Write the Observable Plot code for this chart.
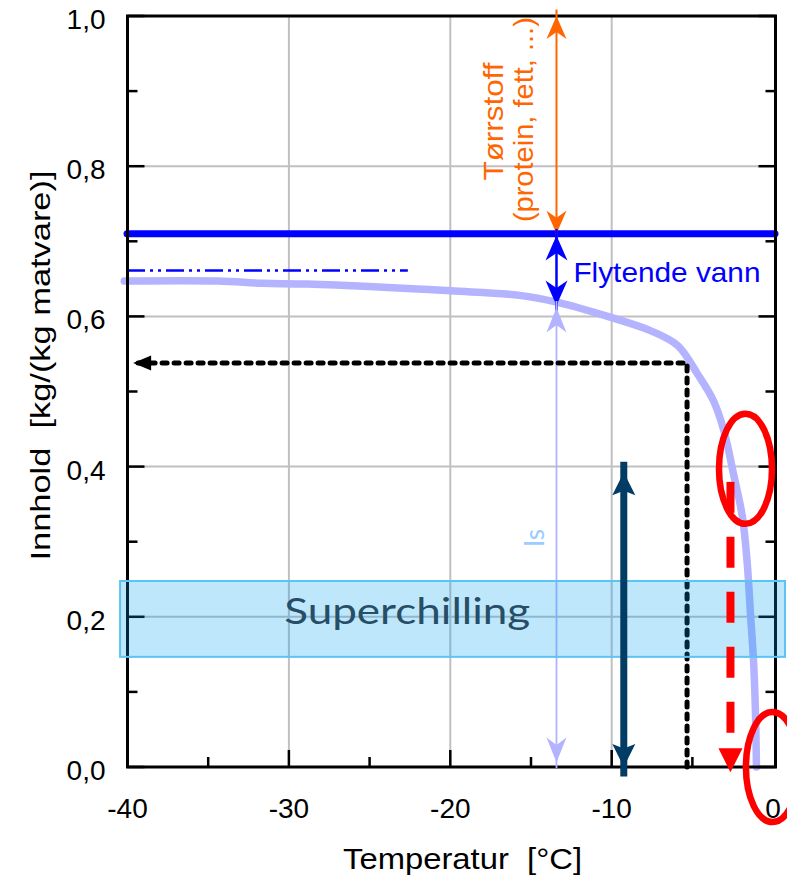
<!DOCTYPE html>
<html><head><meta charset="utf-8">
<script src="https://cdn.jsdelivr.net/npm/d3@7"></script>
<script src="https://cdn.jsdelivr.net/npm/@observablehq/plot@0.6"></script>
<style>html,body{margin:0;padding:0;background:#fff;overflow:hidden}svg text{white-space:pre}</style>
</head><body><div id="chart"></div>
<script>
// ---- data ----
const curveTemp  = [-40.2, -34.4, -31.6, -28.9, -20.0, -15.7, -13.4, -10.1, -7.6, -5.9, -4.7, -3.7, -3.05, -2.45, -1.9, -1.6, -1.4, -1.2, -1.09, -1.03];
const curveWater = [0.647, 0.647, 0.644, 0.643, 0.634, 0.628, 0.619, 0.599, 0.581, 0.561, 0.524, 0.488, 0.448, 0.390, 0.333, 0.271, 0.204, 0.137, 0.071, 0.0];
const xTicks = [-40, -30, -20, -10, 0];
const xTickLabels = ["-40", "-30", "-20", "-10", "0"];
const xMinorTicks = [-35, -25, -15, -5];
const yTicks = [0, 0.2, 0.4, 0.6, 0.8, 1.0];
const yTickLabels = ["0,0", "0,2", "0,4", "0,6", "0,8", "1,0"];
const yMinorTicks = [0.1, 0.3, 0.5, 0.7, 0.9];
const xGrid = [-30, -20, -10];
const yGrid = [0.2, 0.4, 0.6, 0.8];
const xDomain = [-40, 0.15];
const yDomain = [0, 1];
const totalWater = 0.710;
const dashDotLevel = 0.661, dashDotStart = -40, dashDotEnd = -22.6;
const arrowTemp = -13.42;
const dryTop = 1.0;
const liquidTop = 0.7077, liquidBottom = 0.6145;
const iceTop = 0.612, iceBottom = 0.006;
const navyTemp = -9.25, navyTop = 0.3925, navyBottom = 0.0;
const dottedTemp = -5.33, dottedLevel = 0.538, dottedEnd = -39.65;
const redTemp = -2.64, redTop = 0.379, redBottom = -0.007;
const circleTemps = [-1.71, -0.04];
const circleLevels = [0.397, 0.0];
const bandX = [-40.43, 0.77];
const bandY = [0.146, 0.247];
const labelTexts = {
  dry1: "Tørrstoff", dry2: "(protein, fett, ...)", liquid: "Flytende vann", ice: "Is",
  band: "Superchilling", xTitle: "Temperatur  [°C]", yTitle: "Innhold  [kg/(kg matvare)]"
};

// ---- colours ----
const ORANGE = "#ff6600", BLUE = "#0000ff", LAV = "#b3b3ff", NAVY = "#003c64", RED = "#ff0000";

// ---- custom symbols ----
function headSym(w, l, notch, dir) {
  const pts = [[0,0],[w/2,l],[0,l*(1-notch)],[-w/2,l]];
  const map = dir === "up" ? ([a,b]) => [a,b] : dir === "down" ? ([a,b]) => [a,-b] : ([a,b]) => [b,a];
  return {draw(ctx) { pts.map(map).forEach(([a,b],i) => i ? ctx.lineTo(a,b) : ctx.moveTo(a,b)); ctx.closePath(); }};
}
const tickSym = (dx, dy) => ({draw(ctx) { ctx.moveTo(0,0); ctx.lineTo(dx,dy); }});
const ellipseSym = (rx, ry) => ({draw(ctx) {
  const k = 0.5523;
  ctx.moveTo(rx,0);
  ctx.bezierCurveTo(rx, ry*k, rx*k, ry, 0, ry);
  ctx.bezierCurveTo(-rx*k, ry, -rx, ry*k, -rx, 0);
  ctx.bezierCurveTo(-rx, -ry*k, -rx*k, -ry, 0, -ry);
  ctx.bezierCurveTo(rx*k, -ry, rx, -ry*k, rx, 0);
  ctx.closePath();
}});
const pt = (x, y) => ({x, y});
const head = (x, y, w, l, notch, dir, color) =>
  Plot.dot([pt(x, y)], {x: "x", y: "y", r: 5, symbol: headSym(w, l, notch, dir), fill: color, stroke: "none"});
const tickDots = (xs, ys, sym) =>
  Plot.dot(xs.map((x, i) => pt(x, ys[i])), {x: "x", y: "y", r: 5, symbol: sym, stroke: "black", strokeWidth: 2.5, fill: "none"});

const curve = curveTemp.map((t, i) => ({t, w: curveWater[i]}));
const SANS = "'Liberation Sans', Arial, sans-serif";

const chart = Plot.plot({
  width: 787, height: 880,
  marginLeft: 127, marginRight: 12, marginTop: 15.5, marginBottom: 113.5,
  x: {domain: xDomain, axis: null},
  y: {domain: yDomain, axis: null},
  style: {fontFamily: SANS, background: "white", overflow: "hidden"},
  marks: [
    Plot.ruleX(xGrid, {stroke: "#c0c0c0", strokeWidth: 2}),
    Plot.ruleY(yGrid, {stroke: "#c0c0c0", strokeWidth: 2}),
    Plot.ruleY([dashDotLevel], {x1: () => dashDotStart, x2: () => dashDotEnd, stroke: BLUE, strokeWidth: 2.5, strokeDasharray: "18,5,3,5,3,5"}),
    Plot.line(curve, {x: "t", y: "w", stroke: LAV, strokeWidth: 7.5, curve: "catmull-rom", strokeLinecap: "round", strokeLinejoin: "round"}),
    Plot.ruleY([totalWater], {x1: () => xDomain[0], x2: () => xDomain[1], stroke: BLUE, strokeWidth: 7, strokeLinecap: "round"}),
    Plot.frame({stroke: "black", strokeWidth: 3}),
    tickDots(yTicks.map(() => xDomain[0]), yTicks, tickSym(17, 0)),
    tickDots(yMinorTicks.map(() => xDomain[0]), yMinorTicks, tickSym(10, 0)),
    tickDots(yTicks.map(() => xDomain[1]), yTicks, tickSym(-17, 0)),
    tickDots(yMinorTicks.map(() => xDomain[1]), yMinorTicks, tickSym(-10, 0)),
    tickDots(xGrid, xGrid.map(() => 0), tickSym(0, -17)),
    tickDots(xMinorTicks, xMinorTicks.map(() => 0), tickSym(0, -10)),
    // orange: dry matter arrow
    Plot.ruleX([arrowTemp], {y1: () => totalWater, y2: () => dryTop, stroke: ORANGE, strokeWidth: 2, insetTop: 6, insetBottom: 6}),
    head(arrowTemp, dryTop, 20, 23, 0.3, "up", ORANGE),
    head(arrowTemp, totalWater, 20, 23, 0.3, "down", ORANGE),
    // blue: liquid water arrow
    Plot.ruleX([arrowTemp], {y1: () => liquidBottom, y2: () => liquidTop, stroke: BLUE, strokeWidth: 2.5, insetTop: 6, insetBottom: 6}),
    head(arrowTemp, liquidTop, 22, 25, 0.3, "up", BLUE),
    head(arrowTemp, liquidBottom, 22, 25, 0.3, "down", BLUE),
    // lavender: ice arrow
    Plot.ruleX([arrowTemp], {y1: () => iceBottom, y2: () => iceTop, stroke: LAV, strokeWidth: 1.8, insetTop: 6, insetBottom: 6}),
    head(arrowTemp, iceTop, 20, 25, 0.3, "up", LAV),
    head(arrowTemp, iceBottom, 20, 25, 0.3, "down", LAV),
    // black dotted path
    Plot.line([pt(dottedTemp, 0), pt(dottedTemp, dottedLevel), pt(dottedEnd, dottedLevel)], {x: "x", y: "y", stroke: "black", strokeWidth: 5, strokeDasharray: "5,7"}),
    head(dottedEnd, dottedLevel, 15, 18, 0, "left", "black"),
    // superchilling band
    Plot.rect([{}], {x1: () => bandX[0], x2: () => bandX[1], y1: () => bandY[0], y2: () => bandY[1], fill: "#00a0f0", fillOpacity: 0.25, stroke: "#5cc4f4", strokeWidth: 2}),
    // navy arrow
    Plot.ruleX([navyTemp], {y1: () => navyBottom, y2: () => navyTop, stroke: NAVY, strokeWidth: 7, insetTop: 10, insetBottom: 10}),
    head(navyTemp, navyTop, 23, 23, 0.2, "up", NAVY),
    head(navyTemp, navyBottom, 23, 23, 0.2, "down", NAVY),
    // red dashed arrow
    Plot.ruleX([redTemp], {y1: () => redTop, y2: () => redBottom, stroke: RED, strokeWidth: 8, strokeDasharray: "31,24", insetBottom: 23}),
    head(redTemp, redBottom, 24, 24, 0, "down", RED),
    // red ellipses
    Plot.dot(circleTemps.map((t, i) => pt(t, circleLevels[i])), {x: "x", y: "y", r: 5, symbol: ellipseSym(26.5, 55), stroke: RED, strokeWidth: 6.5, fill: "none"}),
    // tick labels
    Plot.text(yTicks, {x: () => xDomain[0], y: d => d, text: (d, i) => yTickLabels[i], textAnchor: "end", dx: -22, dy: 4, fontSize: 28, fontFamily: SANS}),
    Plot.text(xTicks, {x: d => d, y: () => 0, text: (d, i) => xTickLabels[i], lineAnchor: "top", dy: 31.5, fontSize: 28, fontFamily: SANS}),
    // titles
    Plot.text([labelTexts.xTitle], {x: () => -19.24, y: () => 0, text: d => d, lineAnchor: "top", dy: 81.5, fontSize: 29, fontFamily: SANS}),
    Plot.text([labelTexts.yTitle], {frameAnchor: "left", text: d => d, rotate: -90, textAnchor: "middle", lineAnchor: "middle", dx: -86, dy: -26, fontSize: 28, fontFamily: SANS}),
    // annotations
    Plot.text([labelTexts.dry1], {x: () => -17.26, y: () => 0.8595, text: d => d, rotate: -90, fill: ORANGE, fontSize: 28, fontFamily: SANS}),
    Plot.text([labelTexts.dry2], {x: () => -15.40, y: () => 0.862, text: d => d, rotate: -90, fill: ORANGE, fontSize: 28, fontFamily: SANS}),
    Plot.text([labelTexts.liquid], {x: () => -12.37, y: () => 0.672, text: d => d, textAnchor: "start", lineAnchor: "top", fill: BLUE, fontSize: 28, fontFamily: SANS}),
    Plot.text([labelTexts.ice], {x: () => -14.74, y: () => 0.305, text: d => d, rotate: -90, fill: "#99ccff", fontSize: 26, fontFamily: "Lato, 'Open Sans', sans-serif"}),
    Plot.text([labelTexts.band], {x: () => -22.67, y: () => 0.226, text: d => d, lineAnchor: "top", fill: "#264e66", fontSize: 37, fontFamily: "Lato, 'Open Sans', sans-serif"})
  ]
});

document.getElementById("chart").appendChild(chart);

const textLengths = new Map([
  [labelTexts.dry1, 118], [labelTexts.dry2, 205], [labelTexts.liquid, 187],
  [labelTexts.xTitle, 239], [labelTexts.yTitle, 390], [labelTexts.band, 246]
]);
d3.select(chart).selectAll("text").each(function () {
  const L = textLengths.get(this.textContent);
  if (L) { this.setAttribute("textLength", L); this.setAttribute("lengthAdjust", "spacingAndGlyphs"); }
});
</script>
</body></html>
